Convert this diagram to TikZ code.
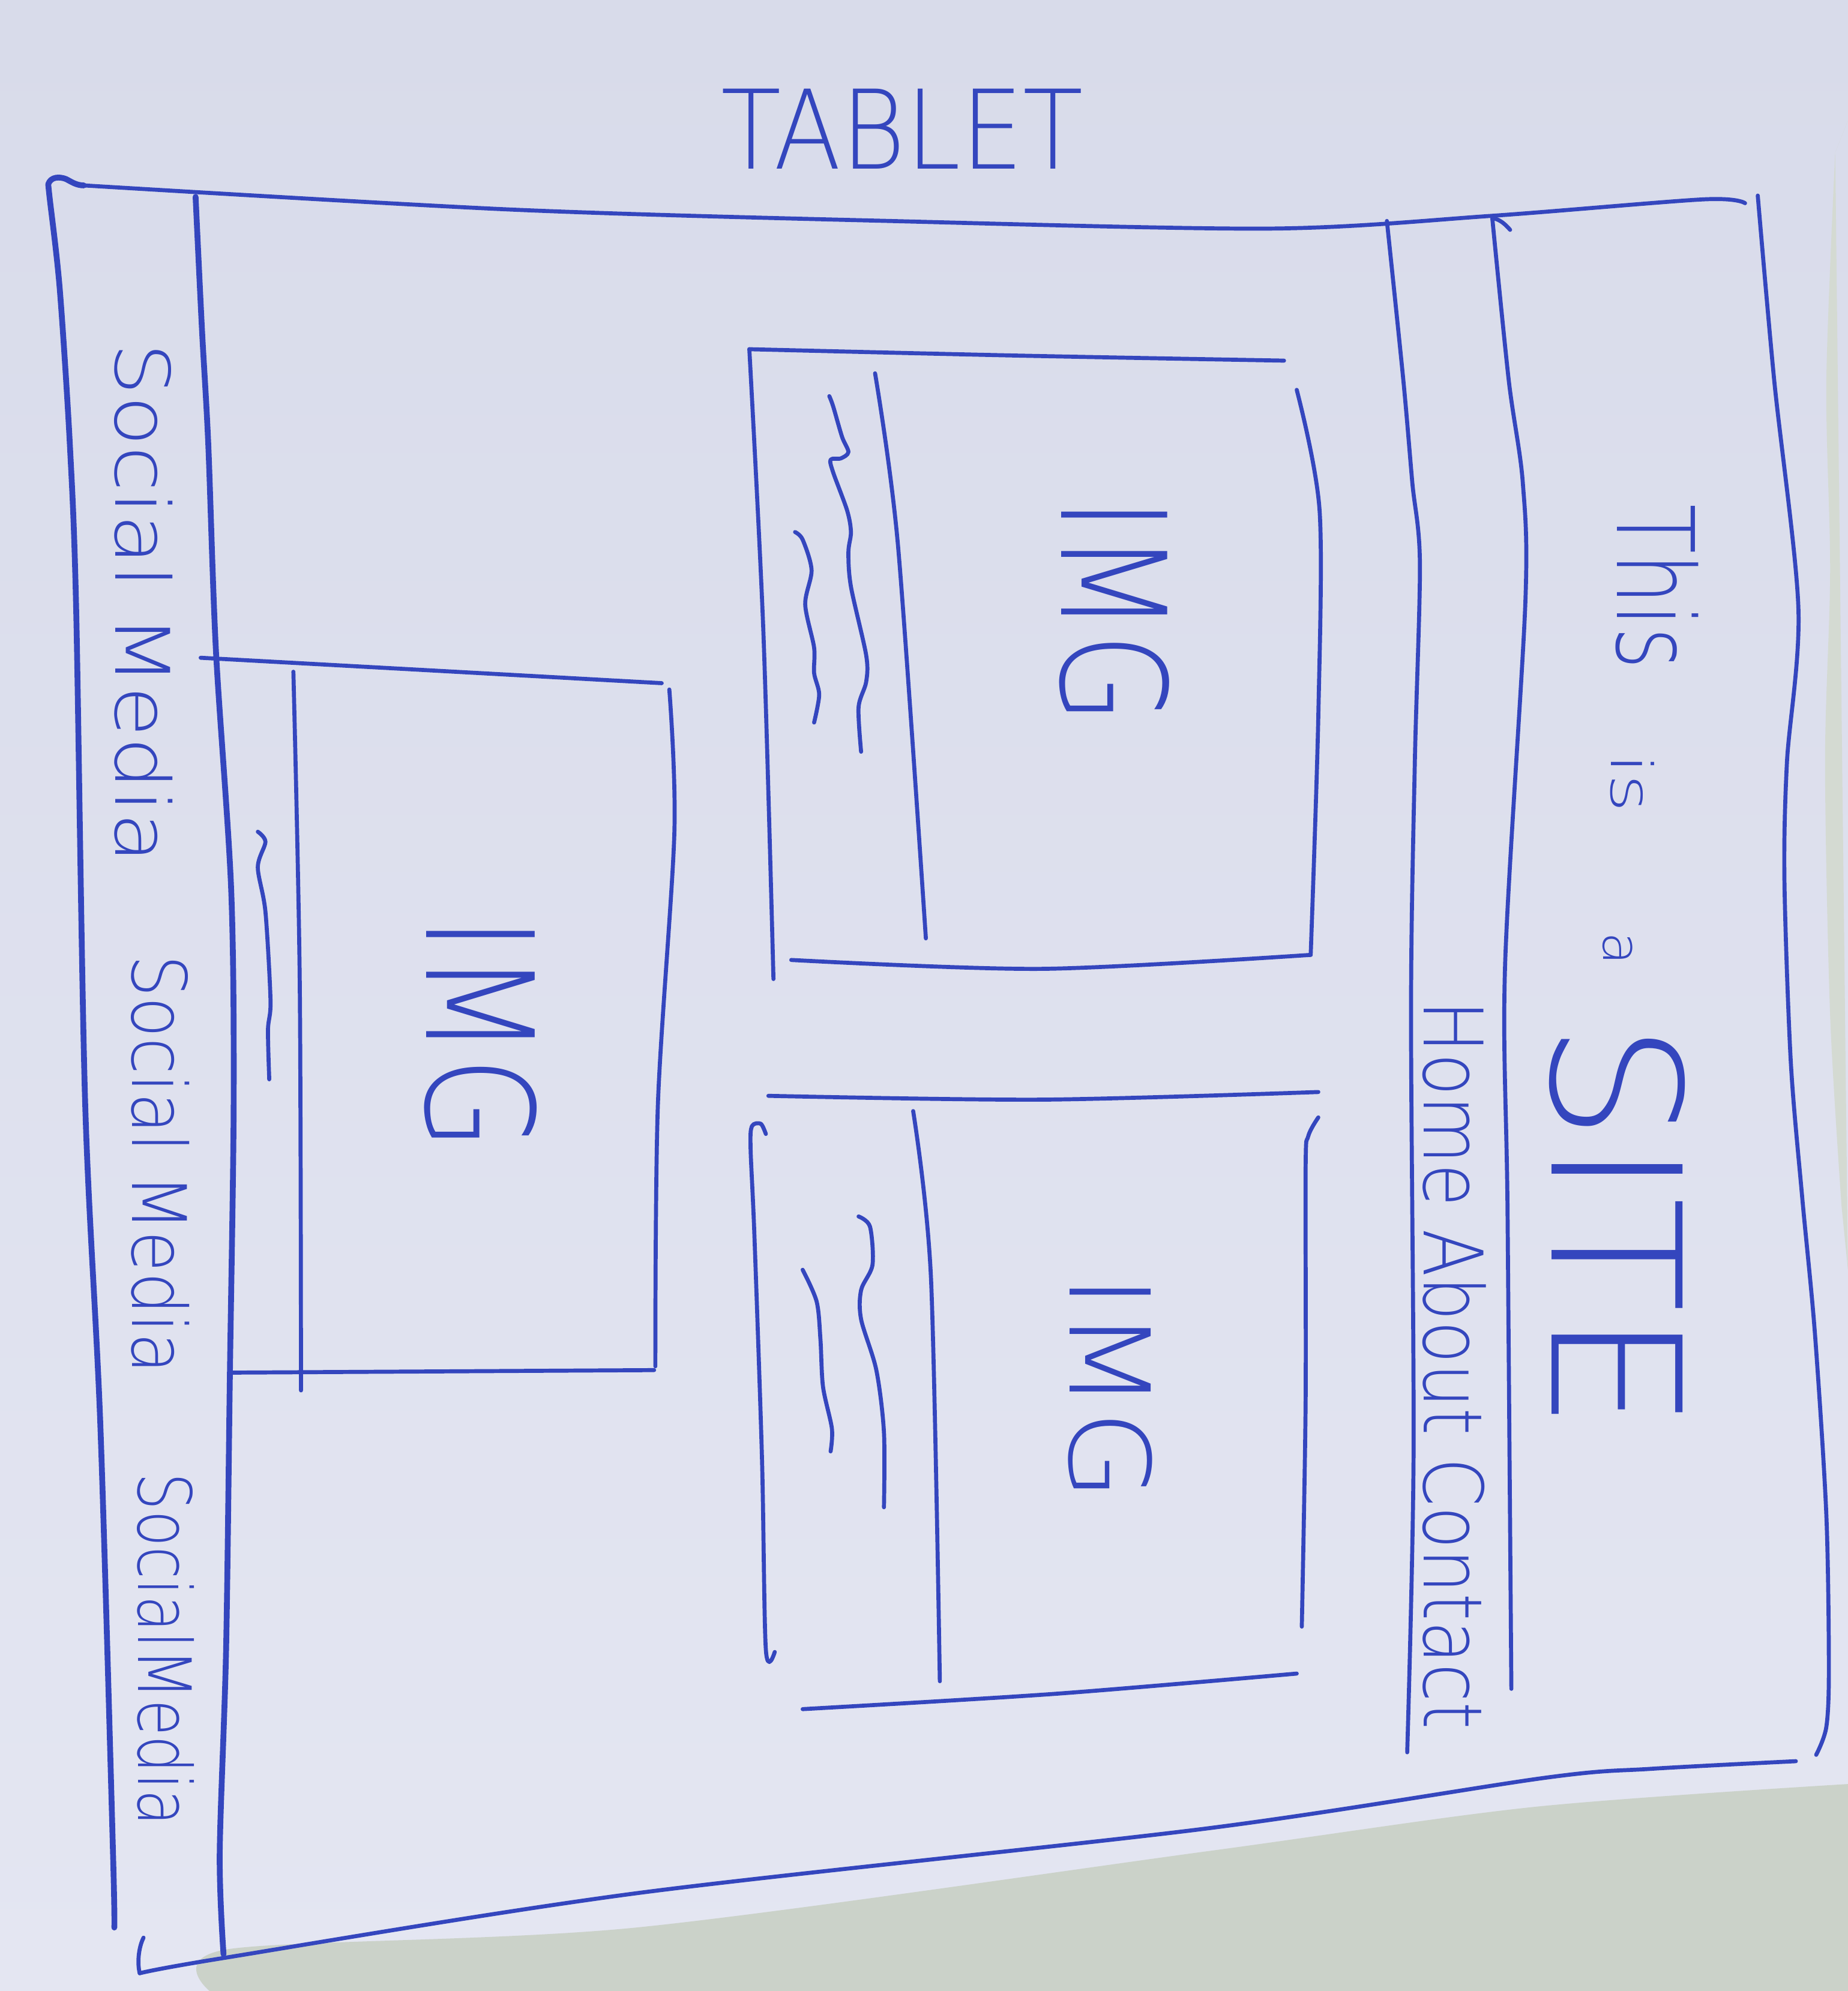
\documentclass[tikz,border=0pt]{standalone}
\usepackage{fontspec}
\usepackage{graphicx}
\newfontfamily\handfont{DejaVu Sans ExtraLight}
\definecolor{inkblue}{RGB}{52,70,190}
\definecolor{paperA}{RGB}{216,219,234}
\definecolor{paperB}{RGB}{228,230,242}
\definecolor{tablecol}{RGB}{203,210,201}
\definecolor{edgecol}{RGB}{212,218,210}
\newlength\hwu
\setlength\hwu{0.01cm}
% #1 length along the writing, #2 letter height (both in drawing units)
\newcommand\handtxt[3]{\resizebox{#1\hwu}{#2\hwu}{\handfont #3}}
\begin{document}
\begin{tikzpicture}[x=0.01cm,y=-0.01cm,
  ink/.style={draw=inkblue,line width=0.9pt,line cap=round,line join=round},
  heavyink/.style={ink,line width=1.3pt},
  writing/.style={inner sep=0pt,outer sep=0pt,text=inkblue},
  sidewriting/.style={writing,rotate=-90,anchor=south west}]
\useasboundingbox (0,0) rectangle (1455,1568);

% sheet of paper and the table below it
\shade[top color=paperA,bottom color=paperB] (0,0) rectangle (1455,1568);
\fill[edgecol] (1455,95) -- (1445,120) plot[smooth] coordinates {(1445,120) (1438,300) (1441,450) (1437,600) (1441,800) (1450,950)} -- (1455,1000) -- cycle;
\fill[tablecol] (165,1568) plot[smooth] coordinates {(165,1568) (180,1535) (501,1518) (950,1458) (1208,1423) (1455,1405)} -- (1455,1568) -- cycle;

% outer frame
\draw[heavyink] plot[smooth] coordinates {(90,1518) (89,1460) (79,1122) (67,867) (60,481) (55,350) (47,227) (39,155) (38,145)}
  .. controls (40,139) and (47,139) .. (52,141) .. controls (56,143) and (60,146) .. (66,146);
\draw[ink] plot[smooth] coordinates {(66,146) (402,165) (700,174) (1000,180) (1174,170) (1341,157) (1374,160)};
\draw[ink] plot[smooth] coordinates {(1384,154) (1397,300) (1416,479) (1407,600) (1405,693) (1410,836) (1419,943) (1429,1050) (1438,1193) (1440,1314) (1438,1360) (1430,1382)};
\draw[ink] plot[smooth] coordinates {(110,1554) (176,1542) (501,1491) (950,1440) (1217,1400) (1300,1393) (1414,1387)};
\draw[ink] (113,1526) .. controls (109,1534) and (108,1546) .. (110,1554);

% left column
\draw[heavyink] plot[smooth] coordinates {(154,155) (159,259) (164,350) (170,512) (182,700) (184,867) (181,1083) (178,1300) (173,1460) (176,1539)};

% header band
\draw[ink] plot[smooth] coordinates {(1092,174) (1105,300) (1112,380) (1118,444) (1114,600) (1111,794) (1113,1145) (1108,1380)};
\draw[ink] (1189,181) .. controls (1184,175) and (1179,172) .. (1175,172);
\draw[ink] plot[smooth] coordinates {(1175,172) (1188,300) (1199,380) (1201,475) (1185,762) (1187,954) (1190,1330)};

% upper picture box
\draw[ink] plot[smooth] coordinates {(590,275) (800,280) (1011,284)};
\draw[ink] plot[smooth] coordinates {(590,275) (601,496) (609,771)};
\draw[ink] plot[smooth] coordinates {(1021,307) (1039,402) (1038,564) (1032,752)};
\draw[ink] plot[smooth] coordinates {(623,756) (820,763) (1032,752)};
\draw[ink] plot[smooth] coordinates {(689,294) (707,429) (729,739)};
\draw[ink] plot[smooth] coordinates {(653,312) (656,320) (663,344) (668,356) (662,361) (654,362) (656,372) (667,402) (670,419) (668,435) (670,462) (682,516) (682,537) (676,557) (678,592)};
\draw[ink] plot[smooth] coordinates {(626,419) (632,425) (639,449) (634,476) (641,510) (641,530) (645,547) (641,569)};

% lower right picture box
\draw[ink] plot[smooth] coordinates {(605,863) (820,866) (1038,860)};
\draw[ink] plot[smooth] coordinates {(603,893) (599,885) (592,887) (591,905) (594,973) (600,1150) (603,1299) (610,1301)};
\draw[ink] plot[smooth] coordinates {(1038,880) (1030,895) (1028,920) (1028,1105) (1025,1281)};
\draw[ink] plot[smooth] coordinates {(632,1346) (830,1334) (1021,1318)};
\draw[ink] plot[smooth] coordinates {(719,875) (733,1006) (740,1324)};
\draw[ink] plot[smooth] coordinates {(676,958) (685,966) (687,996) (678,1016) (678,1039) (690,1079) (696,1128) (696,1187)};
\draw[ink] plot[smooth] coordinates {(632,1000) (643,1025) (646,1055) (648,1092) (655,1125) (654,1143)};

% left picture box
\draw[ink] plot[smooth] coordinates {(158,518) (340,528) (521,538)};
\draw[ink] plot[smooth] coordinates {(527,543) (531,655) (518,870) (516,1076)};
\draw[ink] plot[smooth] coordinates {(181,1081) (350,1080) (515,1079)};
\draw[ink] plot[smooth] coordinates {(231,529) (236,772) (237,1095)};
\draw[ink] plot[smooth] coordinates {(203,655) (209,663) (203,683) (209,718) (213,788) (211,811) (212,850)};

% writing
\node[writing,anchor=south west] (title) at (568,133) {\handtxt{285}{63}{TABLET}};
\node[sidewriting] (social1) at (90,270) {\handtxt{410}{45}{Social Media}};
\node[sidewriting] (social2) at (103,752) {\handtxt{330}{45}{Social Media}};
\node[sidewriting] (social3) at (108,1160) {\handtxt{278}{44}{SocialMedia}};
\node[sidewriting] (this) at (1272,397) {\handtxt{130}{64}{This}};
\node[sidewriting] (is) at (1268,594) {\handtxt{46}{34}{is}};
\node[sidewriting] (a) at (1262,734) {\handtxt{26}{23}{a}};
\node[sidewriting] (site) at (1220,805) {\handtxt{322}{105}{SITE}};
\node[sidewriting] (nav) at (1120,788) {\handtxt{574}{49}{Home About Contact}};
\node[sidewriting] (img1) at (834,392) {\handtxt{178}{85}{IMG}};
\node[sidewriting] (img2) at (841,1004) {\handtxt{178}{65}{IMG}};
\node[sidewriting] (img3) at (334,722) {\handtxt{184}{87}{IMG}};
\end{tikzpicture}
\end{document}
